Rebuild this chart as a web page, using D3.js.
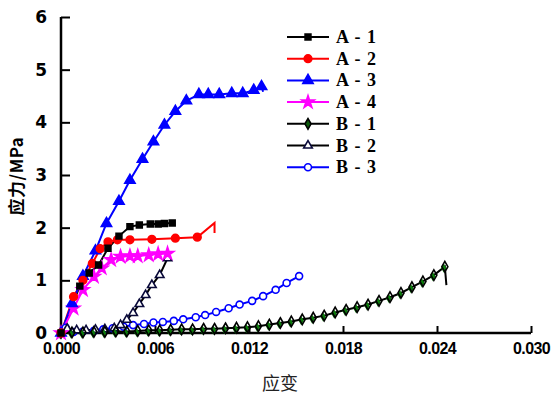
<!DOCTYPE html>
<html>
<head>
<meta charset="utf-8">
<script src="https://cdn.jsdelivr.net/npm/d3@7/dist/d3.min.js"></script>
<style>
  html, body { margin: 0; padding: 0; background: #fff; }
  svg { display: block; }
</style>
</head>
<body>
<svg id="chart" width="552" height="397"></svg>
<script>
// Stress–strain curves of specimens A-1..A-4 and B-1..B-3
const xTicks = [0, 0.006, 0.012, 0.018, 0.024, 0.030];
const xTickLabels = ["0.000", "0.006", "0.012", "0.018", "0.024", "0.030"];
const yTicks = [0, 1, 2, 3, 4, 5, 6];
const yTickLabels = ["0", "1", "2", "3", "4", "5", "6"];
const seriesNames = ["A - 1", "A - 2", "A - 3", "A - 4", "B - 1", "B - 2", "B - 3"];

const A1x = [0, 0.0012, 0.0018, 0.0024, 0.0030, 0.0037, 0.0044, 0.0050, 0.0057, 0.0062, 0.0066, 0.0071];
const A1y = [0, 0.89, 1.14, 1.29, 1.61, 1.84, 2.02, 2.05, 2.07, 2.07, 2.08, 2.09];

const A2x = [0, 0.0008, 0.0014, 0.0020, 0.0025, 0.0030, 0.0036, 0.0044, 0.0058, 0.0073, 0.0087, 0.0098, 0.0098];
const A2y = [0, 0.69, 1.00, 1.32, 1.60, 1.73, 1.77, 1.77, 1.78, 1.80, 1.82, 2.09, 1.90];

const A3x = [0, 0.0007, 0.0014, 0.0022, 0.0029, 0.0037, 0.0044, 0.0052, 0.0059, 0.0066, 0.0073, 0.0080, 0.0088, 0.0094, 0.0101, 0.0109, 0.0116, 0.0123, 0.0128, 0.0129];
const A3y = [0, 0.56, 1.08, 1.56, 2.08, 2.50, 2.90, 3.30, 3.63, 3.95, 4.21, 4.41, 4.53, 4.53, 4.53, 4.55, 4.55, 4.61, 4.68, 4.58];

const A4x = [0, 0.0008, 0.0014, 0.0021, 0.0026, 0.0032, 0.0038, 0.0044, 0.0049, 0.0056, 0.0062, 0.0068];
const A4y = [0, 0.47, 0.82, 1.07, 1.23, 1.39, 1.45, 1.46, 1.46, 1.48, 1.50, 1.51];

const B1x = [0, 0.0007, 0.0014, 0.0021, 0.0028, 0.0035, 0.0042, 0.0049, 0.0056, 0.0063, 0.0070, 0.0077, 0.0084, 0.0091, 0.0098, 0.0105, 0.0112, 0.0119, 0.0126, 0.0133, 0.0140, 0.0147, 0.0154, 0.0161, 0.0168, 0.0175, 0.0182, 0.0189, 0.0196, 0.0203, 0.0210, 0.0217, 0.0224, 0.0231, 0.0238, 0.0245, 0.0246];
const B1y = [0, 0.01, 0.01, 0.02, 0.02, 0.03, 0.03, 0.04, 0.05, 0.05, 0.06, 0.07, 0.07, 0.08, 0.08, 0.09, 0.10, 0.11, 0.13, 0.16, 0.19, 0.22, 0.26, 0.29, 0.33, 0.39, 0.44, 0.49, 0.54, 0.61, 0.68, 0.76, 0.87, 0.98, 1.10, 1.26, 0.91];

const B2x = [0.0004, 0.0010, 0.0016, 0.0022, 0.0028, 0.0034, 0.0038, 0.0042, 0.0046, 0.0050, 0.0054, 0.0058, 0.0063, 0.0068];
const B2y = [0.08, 0.05, 0.05, 0.06, 0.07, 0.09, 0.15, 0.25, 0.38, 0.55, 0.72, 0.91, 1.10, 1.42];

const B3x = [0.0003, 0.0008, 0.0014, 0.0021, 0.0027, 0.0033, 0.0040, 0.0046, 0.0053, 0.0059, 0.0065, 0.0072, 0.0078, 0.0086, 0.0092, 0.0099, 0.0107, 0.0114, 0.0122, 0.0129, 0.0137, 0.0144, 0.0152];
const B3y = [0.10, 0.02, 0.03, 0.04, 0.07, 0.09, 0.12, 0.15, 0.17, 0.20, 0.21, 0.23, 0.26, 0.30, 0.34, 0.40, 0.47, 0.54, 0.61, 0.70, 0.82, 0.95, 1.08];

// drawing style per series (tail = trailing points drawn without a marker)
const styles = [
  { xs: A1x, ys: A1y, line: "#000", sym: d3.symbolSquare,   size: 34, fill: "#000", stroke: "#000",    tail: 0 },
  { xs: A2x, ys: A2y, line: "#f00", sym: d3.symbolCircle,   size: 46, fill: "#f00", stroke: "#f00",    tail: 2 },
  { xs: A3x, ys: A3y, line: "#00f", sym: d3.symbolTriangle, size: 46, fill: "#00f", stroke: "#00f",    tail: 1 },
  { xs: A4x, ys: A4y, line: "#f0f", sym: d3.symbolStar,     size: 48, fill: "#f0f", stroke: "#f0f",    tail: 0 },
  { xs: B1x, ys: B1y, line: "#000", sym: d3.symbolDiamond,  size: 32, fill: "#fff", stroke: "#000",    tail: 1, green: true },
  { xs: B2x, ys: B2y, line: "#000", sym: d3.symbolTriangle, size: 32, fill: "#fff", stroke: "#0a0a3a", tail: 0 },
  { xs: B3x, ys: B3y, line: "#00f", sym: d3.symbolCircle,   size: 38, fill: "#fff", stroke: "#00f",    tail: 0 }
];

const svg = d3.select("#chart");
const x = d3.scaleLinear().domain([0, 0.030]).range([61, 531]);
const y = d3.scaleLinear().domain([0, 6]).range([333, 17]);

// axes
const xAxis = svg.append("g").attr("transform", `translate(0,${y(0)})`)
  .call(d3.axisBottom(x).tickValues(xTicks).tickSize(-7).tickPadding(10)
    .tickFormat((d, i) => xTickLabels[i]));
xAxis.select(".domain").attr("stroke", "#000").attr("stroke-width", 2.5).attr("d", `M${x(0) - 1},0H${x(0.030)}`);
xAxis.selectAll(".tick line").attr("stroke", "#000").attr("stroke-width", 2);
xAxis.selectAll(".tick").filter(d => d === 0).select("line").remove();
xAxis.selectAll("text").attr("fill", "#000")
  .style("font-family", "'Liberation Sans', Arial, sans-serif")
  .style("font-weight", "bold").style("font-size", "16px").style("letter-spacing", "-0.6px");

const yAxis = svg.append("g").attr("transform", `translate(${x(0)},0)`)
  .call(d3.axisLeft(y).tickValues(yTicks).tickSize(-9).tickPadding(14)
    .tickFormat((d, i) => yTickLabels[i]));
yAxis.select(".domain").attr("stroke", "#000").attr("stroke-width", 2.5).attr("d", `M0,${y(0)}V${y(6)}`);
yAxis.selectAll(".tick line").attr("stroke", "#000").attr("stroke-width", 2);
yAxis.selectAll(".tick").filter(d => d === 0).select("line").remove();
yAxis.selectAll("text").attr("fill", "#000")
  .style("font-family", "'DejaVu Sans', Verdana, sans-serif")
  .style("font-weight", "bold").style("font-size", "17px");

// axis titles
svg.append("text").attr("x", 280).attr("y", 390).attr("text-anchor", "middle")
  .style("font-family", "'Noto Sans CJK SC', sans-serif").style("font-size", "18px")
  .attr("fill", "#222").text("应变");
svg.append("text").attr("transform", "translate(23,176) rotate(-90)").attr("text-anchor", "middle")
  .style("font-family", "'Noto Sans CJK SC', sans-serif").style("font-weight", "bold").style("font-size", "17px")
  .style("letter-spacing", "0.5px").attr("fill", "#000").text("应力/MPa");

// curves
const plot = svg.append("g");
const lineGen = d3.line().x(d => x(d[0])).y(d => y(d[1]));

styles.forEach(s => {
  const pts = s.xs.map((v, i) => [v, s.ys[i]]);
  plot.append("path").attr("d", lineGen(pts)).attr("fill", "none")
    .attr("stroke", s.line).attr("stroke-width", 2);
});
styles.slice().reverse().forEach(s => {
  const pts = s.xs.map((v, i) => [v, s.ys[i]]).slice(0, s.xs.length - s.tail);
  const g = plot.append("g");
  if (s.green) {
    g.selectAll("path.g").data(pts).join("path")
      .attr("transform", d => `translate(${x(d[0]) - 1},${y(d[1]) + 1.5})`)
      .attr("d", d3.symbol(d3.symbolDiamond, 24)).attr("fill", "#0b7a0b");
  }
  g.selectAll("path.m").data(pts).join("path")
    .attr("transform", d => `translate(${x(d[0])},${y(d[1])})`)
    .attr("d", d3.symbol(s.sym, s.size))
    .attr("fill", s.green ? "none" : s.fill).attr("stroke", s.stroke).attr("stroke-width", 1.6);
});

// legend
const legend = svg.append("g");
seriesNames.forEach((name, i) => {
  const s = styles[i];
  const ly = 37 + i * 21.7;
  legend.append("line").attr("x1", 287).attr("x2", 329).attr("y1", ly).attr("y2", ly)
    .attr("stroke", s.line).attr("stroke-width", 2);
  if (s.green) {
    legend.append("path").attr("transform", `translate(308,${ly})`)
      .attr("d", d3.symbol(d3.symbolDiamond, 40)).attr("fill", "#0b5a0b");
  }
  legend.append("path").attr("transform", `translate(308,${ly})`)
    .attr("d", d3.symbol(s.sym, s.size))
    .attr("fill", s.green ? "none" : s.fill).attr("stroke", s.stroke).attr("stroke-width", 1.6);
  legend.append("text").attr("x", 336).attr("y", ly + 6)
    .style("font-family", "'Liberation Serif', 'Times New Roman', serif")
    .style("font-weight", "bold").style("font-size", "18px").style("letter-spacing", "1px")
    .attr("fill", "#000").text(name);
});
</script>
</body>
</html>
